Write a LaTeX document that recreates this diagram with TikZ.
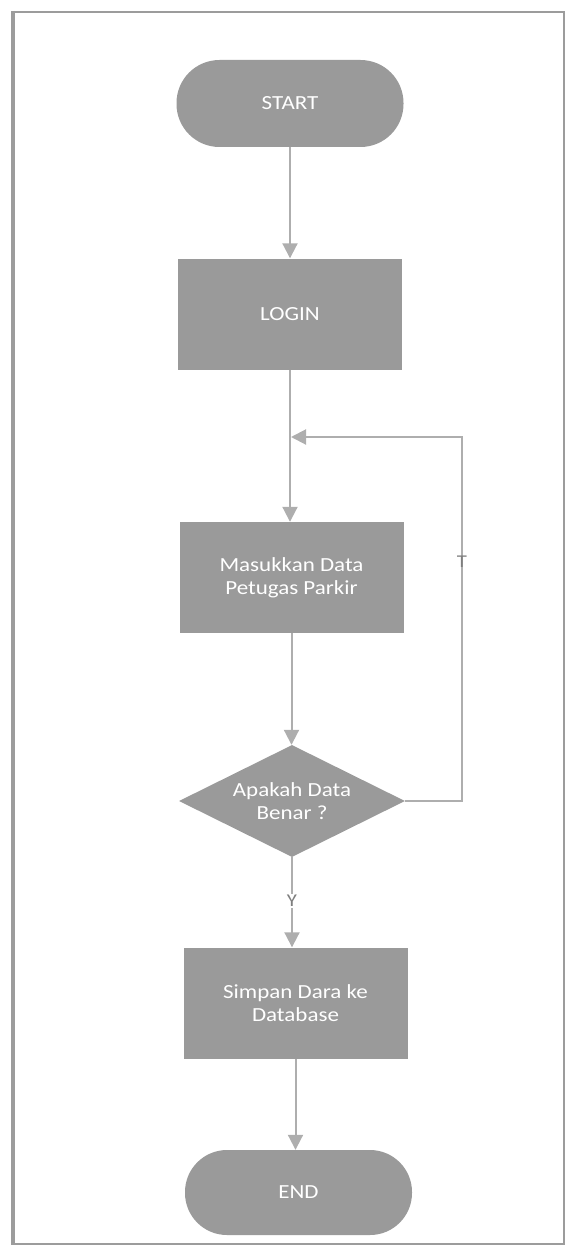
\documentclass[tikz,border=0pt]{standalone}
\usepackage{fontspec}
\setmainfont{Carlito}[FakeStretch=1.15]
\usetikzlibrary{shapes.geometric,arrows.meta}
\definecolor{shapefill}{HTML}{9A9A9A}
\definecolor{linkgray}{HTML}{AEAEAE}
\definecolor{framegray}{HTML}{9C9C9C}
\definecolor{labelgray}{HTML}{7E7E7E}
\tikzset{
  terminal/.style={fill=shapefill, draw=none, rounded corners=43pt,
    minimum width=227pt, minimum height=87pt, inner sep=0pt},
  procbox/.style={fill=shapefill, draw=none, minimum width=224pt,
    minimum height=111pt, inner sep=0pt},
  decide/.style={diamond, fill=shapefill, draw=none, inner sep=0pt,
    minimum width=226pt, minimum height=112pt},
  boxtext/.style={text=white, font=\fontsize{20}{23}\selectfont, align=center},
  link/.style={draw=linkgray, line width=2pt,
    -{Triangle[width=15pt,length=15pt]}},
  branch/.style={text=labelgray, font=\fontsize{18}{20}\selectfont, inner sep=1pt}
}
\begin{document}
\begin{tikzpicture}[x=1pt,y=-1pt]
\useasboundingbox (0,0) rectangle (568,1257);
% outer frame
\draw[framegray, line width=2pt] (13,12) rectangle (564,1244);
\draw[framegray, line width=3.5pt] (13,11) -- (13,1245);

% flow steps
\node[terminal, boxtext] (start) at (290,103.5) {START};
\node[procbox, boxtext] (login) at (290,314) {LOGIN};
\node[procbox, boxtext] (input) at (291.5,577.5) {Masukkan Data\\Petugas Parkir};
\node[decide] (dec) at (292,801) {};
\node[boxtext] (dectext) at (dec.center) {Apakah Data\\Benar ?};
\node[procbox, boxtext] (save) at (295.5,1003) {Simpan Dara ke\\Database};
\node[terminal, boxtext, minimum height=85pt, rounded corners=42pt] (end) at (298.5,1192.5) {END};

% loop-back points
\coordinate (loopcorner) at (462,437);
\coordinate (join) at (291,437);

% connectors
\draw[link] (start.south) -- (start.south |- login.north);
\draw[link] (login.south) -- (login.south |- input.north);
\draw[link] (input.south) -- (input.south |- dec.north);
\draw[link] (dec.south) -- (dec.south |- save.north);
\draw[link] (save.south) -- (save.south |- end.north);
\draw[link] (dec.east) -| (loopcorner) -- (join);

% branch labels
\node[branch] (tlabel) at (462,562) {T};
\node[branch, fill=white] (ylabel) at (292,901) {Y};
\end{tikzpicture}
\end{document}
